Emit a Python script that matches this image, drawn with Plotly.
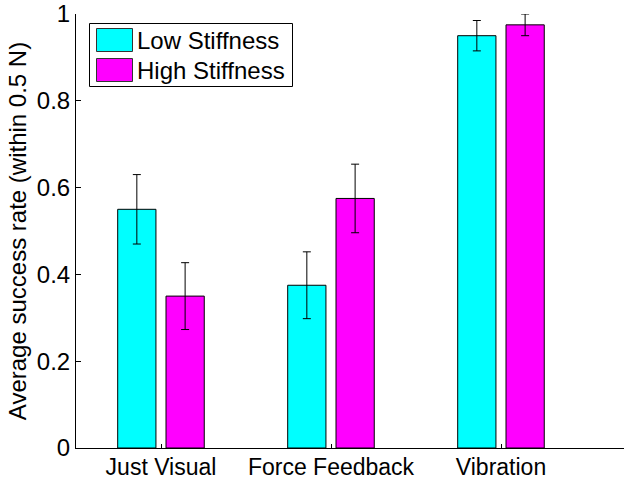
import plotly.graph_objects as go

categories = ["Just Visual", "Force Feedback", "Vibration"]
cat_pos = [1, 2, 3]
series_names = ["Low Stiffness", "High Stiffness"]
low_vals = [0.55, 0.375, 0.95]
low_err = [0.08, 0.077, 0.035]
high_vals = [0.35, 0.575, 0.975]
high_err = [0.077, 0.079, 0.025]
y_ticks = [0, 0.2, 0.4, 0.6, 0.8, 1]
y_ticktext = ["0", "0.2", "0.4", "0.6", "0.8", "1"]

W, H = 624, 480
# plot area in pixels
PL, PR, PT, PB = 76, 624, 14, 448
L, R, T, B = PL, W - PR, PT, H - PB
pw, ph = PR - PL, PB - PT

FONT = "Liberation Sans, Arial, Helvetica, sans-serif"

fig = go.Figure()
fig.add_trace(go.Bar(
    x=cat_pos, y=low_vals, name=series_names[0],
    width=0.225, offset=-0.2547,
    marker=dict(color="#00FFFF", line=dict(color="black", width=1)),
    error_y=dict(type="data", array=low_err, color="black", thickness=1, width=4),
    showlegend=False,
))
fig.add_trace(go.Bar(
    x=cat_pos, y=high_vals, name=series_names[1],
    width=0.225, offset=0.0294,
    marker=dict(color="#FF00FF", line=dict(color="black", width=1)),
    error_y=dict(type="data", array=high_err, color="black", thickness=1, width=4),
    showlegend=False,
))

def px_x(p):
    return (p - PL) / pw

def px_y(p):
    return (PB - p) / ph

shapes = [
    dict(type="rect", xref="paper", yref="paper",
         x0=px_x(89.5), x1=px_x(292.5), y0=px_y(86.5), y1=px_y(23.5),
         line=dict(color="black", width=1), fillcolor="white", layer="above"),
    dict(type="rect", xref="paper", yref="paper",
         x0=px_x(96.5), x1=px_x(132.5), y0=px_y(51.5), y1=px_y(28.5),
         line=dict(color="#333333", width=1), fillcolor="#00FFFF", layer="above"),
    dict(type="rect", xref="paper", yref="paper",
         x0=px_x(96.5), x1=px_x(132.5), y0=px_y(81.5), y1=px_y(58.5),
         line=dict(color="#333333", width=1), fillcolor="#FF00FF", layer="above"),
]
annotations = [
    dict(xref="paper", yref="paper", x=px_x(135), y=px_y(40.5), text=series_names[0],
         showarrow=False, xanchor="left", yanchor="middle",
         font=dict(family=FONT, size=24, color="black")),
    dict(xref="paper", yref="paper", x=px_x(135), y=px_y(70.5), text=series_names[1],
         showarrow=False, xanchor="left", yanchor="middle",
         font=dict(family=FONT, size=24, color="black")),
]

fig.update_layout(
    width=W, height=H,
    margin=dict(l=L, r=R, t=T, b=B, pad=0),
    paper_bgcolor="white", plot_bgcolor="white",
    barmode="overlay",
    shapes=shapes, annotations=annotations,
    font=dict(family=FONT, color="black"),
    xaxis=dict(
        range=[0.5, 0.5 + pw / 170.0],
        tickmode="array", tickvals=cat_pos, ticktext=categories,
        ticks="inside", ticklen=4, tickcolor="black", tickwidth=1,
        showline=True, linecolor="black", linewidth=1,
        showgrid=False, zeroline=False, automargin=False,
        ticklabeloverflow="allow", ticklabelstandoff=-2,
        tickfont=dict(family=FONT, size=23, color="black"),
    ),
    yaxis=dict(
        range=[0, 1],
        tickmode="array", tickvals=y_ticks, ticktext=y_ticktext,
        ticks="inside", ticklen=5, tickcolor="black", tickwidth=1,
        showline=True, linecolor="black", linewidth=1,
        showgrid=False, zeroline=False, automargin=False,
        ticklabeloverflow="allow",
        tickfont=dict(family=FONT, size=24, color="black"),
        title=dict(text="Average success rate (within 0.5 N)", standoff=3,
                   font=dict(family=FONT, size=24, color="black")),
    ),
)

fig.write_html(
    "out.html",
    config={"displayModeBar": False},
    post_script="document.body.style.margin='0';document.body.style.overflow='hidden';",
)
